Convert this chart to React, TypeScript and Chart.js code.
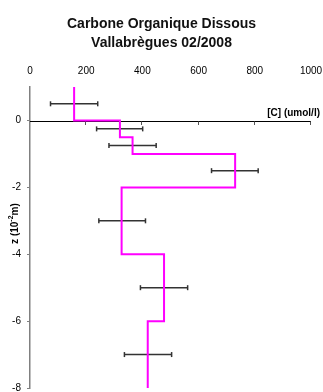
import React, { useEffect, useRef } from "react";
import { Chart, registerables } from "chart.js";

Chart.register(...registerables);

// Step profile: each layer [top, bottom] with its concentration
const layerTop = [1, 0, -0.5, -1, -2, -4, -6];
const layerBottom = [0, -0.5, -1, -2, -4, -6, -8];
const layerValue = [157, 320, 365, 730, 326, 477, 419];

// Error bars: depth, centre, half-width
const errDepth = [0.5, -0.25, -0.75, -1.5, -3, -5, -7];
const errCenter = [157, 319, 365, 729, 328, 477, 420];
const errHalf = [84, 82, 84, 83, 83, 84, 84];

const xTicks = [0, 200, 400, 600, 800, 1000];
const yTicks = [-8, -6, -4, -2, 0];

const titleLines = ["Carbone Organique Dissous", "Vallabrègues 02/2008"];
const xTitle = "[C] (umol/l)";
const yTitleParts = ["z (10", "-2", "m)"];

const FONT = '"Liberation Sans", Arial, sans-serif';

const overlayPlugin = {
  id: "overlay",
  beforeDatasetsDraw(chart: any) {
    const { ctx, chartArea, scales } = chart;
    const x = scales.x;
    const y = scales.y;
    const y0 = Math.round(y.getPixelForValue(0)) + 0.5;
    ctx.save();
    ctx.strokeStyle = "#000";
    ctx.lineWidth = 1;
    ctx.beginPath();
    ctx.moveTo(chartArea.left, y0);
    ctx.lineTo(chartArea.right, y0);
    ctx.stroke();
    ctx.strokeStyle = "#555";
    ctx.beginPath();
    xTicks.forEach((v) => {
      if (v === 0) return;
      const px = Math.round(x.getPixelForValue(v)) - 0.5;
      ctx.moveTo(px, y0);
      ctx.lineTo(px, y0 + 3.5);
    });
    ctx.stroke();
    ctx.restore();
  },
  afterDraw(chart: any) {
    const { ctx, chartArea, scales } = chart;
    const y = scales.y;
    ctx.save();
    // x axis title
    ctx.fillStyle = "#000";
    ctx.font = `bold 10px ${FONT}`;
    ctx.textAlign = "right";
    ctx.textBaseline = "alphabetic";
    ctx.fillText(xTitle, chartArea.right + 9, y.getPixelForValue(0) - 5);

    // y axis title, rotated
    const cx = chartArea.left - 15;
    const cy = (y.top + y.bottom) / 2 - 14;
    ctx.translate(cx, cy);
    ctx.rotate(-Math.PI / 2);
    const fMain = `bold 10px ${FONT}`;
    const fSup = `bold 7px ${FONT}`;
    ctx.font = fMain;
    const w0 = ctx.measureText(yTitleParts[0]).width;
    const w2 = ctx.measureText(yTitleParts[2]).width;
    ctx.font = fSup;
    const w1 = ctx.measureText(yTitleParts[1]).width;
    const total = w0 + w1 + w2;
    let px = -total / 2;
    ctx.textAlign = "left";
    ctx.textBaseline = "middle";
    ctx.font = fMain;
    ctx.fillText(yTitleParts[0], px, 0);
    px += w0;
    ctx.font = fSup;
    ctx.fillText(yTitleParts[1], px, -3.5);
    px += w1;
    ctx.font = fMain;
    ctx.fillText(yTitleParts[2], px, 0);
    ctx.restore();
  },
};

export default function App() {
  const canvasRef = useRef<HTMLCanvasElement | null>(null);

  useEffect(() => {
    if (!canvasRef.current) return;

    const stepData: { x: number; y: number }[] = [];
    layerValue.forEach((v, i) => {
      stepData.push({ x: v, y: layerTop[i] });
      stepData.push({ x: v, y: layerBottom[i] });
    });

    const errorSets = errDepth.map((d, i) => ({
      label: "err" + i,
      data: [
        { x: errCenter[i] - errHalf[i], y: d },
        { x: errCenter[i] + errHalf[i], y: d },
      ],
      showLine: true,
      borderColor: "#333",
      borderWidth: 1.5,
      pointStyle: "line",
      rotation: 90,
      pointRadius: 2.5,
      pointBorderWidth: 1.5,
      pointBorderColor: "#333",
      pointHoverRadius: 2.5,
    }));

    const chart = new Chart(canvasRef.current, {
      type: "scatter",
      data: {
        datasets: [
          {
            label: "COD",
            data: stepData,
            showLine: true,
            borderColor: "#ff00ff",
            borderWidth: 2,
            pointRadius: 0,
            pointHoverRadius: 0,
            tension: 0,
          } as any,
          ...(errorSets as any[]),
        ],
      },
      options: {
        responsive: false,
        animation: false,
        devicePixelRatio: 1,
        layout: { padding: 0 },
        plugins: {
          legend: { display: false },
          tooltip: { enabled: false },
          title: {
            display: true,
            text: titleLines,
            color: "#111",
            font: { family: FONT, size: 14, weight: "bold", lineHeight: 1.36 },
            padding: { top: 15, bottom: 0 },
          },
        },
        scales: {
          x: {
            type: "linear",
            position: "top",
            min: 0,
            max: 1000,
            afterBuildTicks: (s: any) => {
              s.ticks = xTicks.map((v) => ({ value: v }));
            },
            afterFit: (s: any) => {
              s.height = 34;
              s.paddingLeft = 0;
              s.paddingRight = 12;
            },
            grid: { display: false, drawTicks: false },
            border: { display: false },
            ticks: {
              color: "#000",
              font: { family: FONT, size: 10 },
              padding: 10,
              maxRotation: 0,
              callback: (v: any) => String(v),
            },
          },
          y: {
            type: "linear",
            min: -8,
            max: 1,
            afterBuildTicks: (s: any) => {
              s.ticks = yTicks.map((v) => ({ value: v }));
            },
            afterFit: (s: any) => {
              s.width = 30;
              s.paddingTop = 0;
              s.paddingBottom = 4;
            },
            grid: { drawOnChartArea: false, tickLength: 3, color: "#808080", lineWidth: 1 },
            border: { display: true, color: "#808080", width: 1.5 },
            ticks: {
              color: "#000",
              font: { family: FONT, size: 10 },
              padding: 6,
              callback: (v: any) => String(v),
            },
          },
        },
      } as any,
      plugins: [overlayPlugin],
    });

    return () => chart.destroy();
  }, []);

  return (
    <div style={{ position: "fixed", left: 0, top: 0, width: 323, height: 392, background: "#fff" }}>
      <canvas ref={canvasRef} width={323} height={392} style={{ display: "block" }} />
    </div>
  );
}
